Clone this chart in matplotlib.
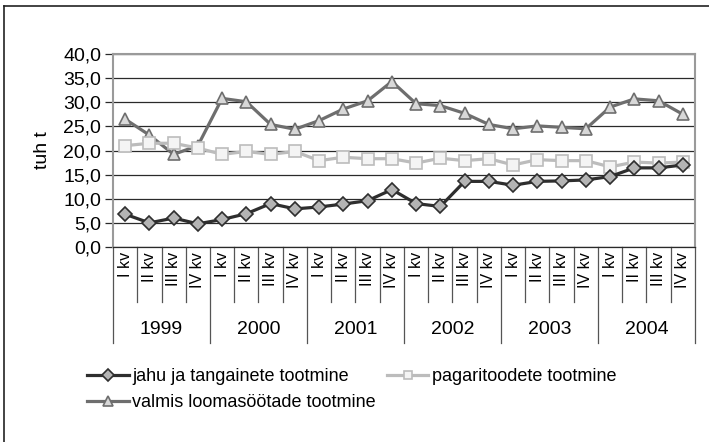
import numpy as np
import matplotlib.pyplot as plt
from matplotlib.lines import Line2D
import matplotlib.transforms as mtransforms

plt.rcParams['font.family'] = ['Liberation Sans', 'DejaVu Sans']

years = ['1999', '2000', '2001', '2002', '2003', '2004']
quarters = ['I kv', 'II kv', 'III kv', 'IV kv']

jahu = [6.8, 5.0, 6.0, 4.8, 5.7, 6.9, 9.0, 7.9, 8.3, 8.9, 9.6, 11.9,
        9.0, 8.4, 13.6, 13.6, 12.8, 13.6, 13.7, 13.9, 14.6, 16.4, 16.4, 17.0]
pagari = [21.0, 21.5, 21.5, 20.5, 19.2, 19.8, 19.2, 19.8, 17.9, 18.6, 18.3, 18.3,
          17.4, 18.4, 17.9, 18.3, 17.0, 18.1, 17.9, 17.9, 16.6, 17.6, 17.4, 17.6]
valmis = [26.5, 23.2, 19.2, 21.0, 30.8, 30.1, 25.4, 24.4, 26.2, 28.6, 30.3, 34.3,
          29.7, 29.3, 27.7, 25.4, 24.5, 25.1, 24.8, 24.5, 29.0, 30.7, 30.3, 27.5]

W, H = 709, 442
fig = plt.figure(figsize=(W / 100, H / 100), dpi=100)
ax = fig.add_axes([113 / W, (H - 247) / H, (695 - 113) / W, (247 - 54) / H])

x = np.arange(len(jahu)) + 0.5

l1, = ax.plot(x, jahu, color='#2e2e2e', lw=2.3, marker='D', ms=7.5,
              mfc='#b4b4b4', mec='#2e2e2e', mew=1.2, zorder=5)
l2, = ax.plot(x, pagari, color='#bcbcbc', lw=2.3, marker='s', ms=8,
              mfc='#f4f4f4', mec='#bcbcbc', mew=1.2, zorder=4)
l3, = ax.plot(x, valmis, color='#6e6e6e', lw=2.3, marker='^', ms=9,
              mfc='#d8d8d8', mec='#6e6e6e', mew=1.2, zorder=3)

ax.set_xlim(0, len(jahu))
ax.set_ylim(0, 40)
ax.set_yticks(np.arange(0, 41, 5))
ax.set_yticklabels([f'{v:.1f}'.replace('.', ',') for v in np.arange(0, 41, 5)], fontsize=14)
ax.yaxis.grid(True, color='#2a2a2a', lw=0.9)
ax.set_axisbelow(True)
ax.tick_params(axis='y', length=5.5, width=0.9, color='#2a2a2a', pad=3)
ax.set_xticks([])
for s in ['top', 'right', 'left']:
    ax.spines[s].set_color('#9a9a9a')
    ax.spines[s].set_linewidth(1.5)
ax.spines['bottom'].set_color('#2a2a2a')
ax.spines['bottom'].set_linewidth(0.9)
ax.set_ylabel('tuh t', fontsize=14, labelpad=9)

# category axis: quarters and years
trans = mtransforms.blended_transform_factory(ax.transData, ax.transAxes)
for i in range(len(jahu) + 1):
    bottom = -0.497 if i % 4 == 0 else -0.285
    ax.add_line(Line2D([i, i], [0, bottom], transform=trans, color='#555555',
                       lw=0.9, clip_on=False))
for i in range(len(jahu)):
    ax.text(i + 0.5, -0.026, quarters[i % 4], transform=trans, rotation=90,
            ha='center', va='top', fontsize=11.5)
for k, yr in enumerate(years):
    ax.text(4 * k + 2, -0.43, yr, transform=trans, ha='center', va='center', fontsize=14)

fig.legend([l1, l3, l2],
           ['jahu ja tangainete tootmine', 'valmis loomasöötade tootmine', 'pagaritoodete tootmine'],
           ncol=2, loc='upper left', bbox_to_anchor=(71 / W, 1 - 352 / H),
           frameon=False, fontsize=13, handlelength=2.3, handletextpad=0.2,
           columnspacing=0.6, labelspacing=0.5, markerscale=0.75)

# outer frame (left and top edges)
fig.add_artist(Line2D([4 / W, 4 / W], [0, 1 - 6 / H], color='#222222', lw=1.2))
fig.add_artist(Line2D([4 / W, 1], [1 - 6 / H, 1 - 6 / H], color='#222222', lw=1.2))

fig.savefig('out.png', dpi=100)
